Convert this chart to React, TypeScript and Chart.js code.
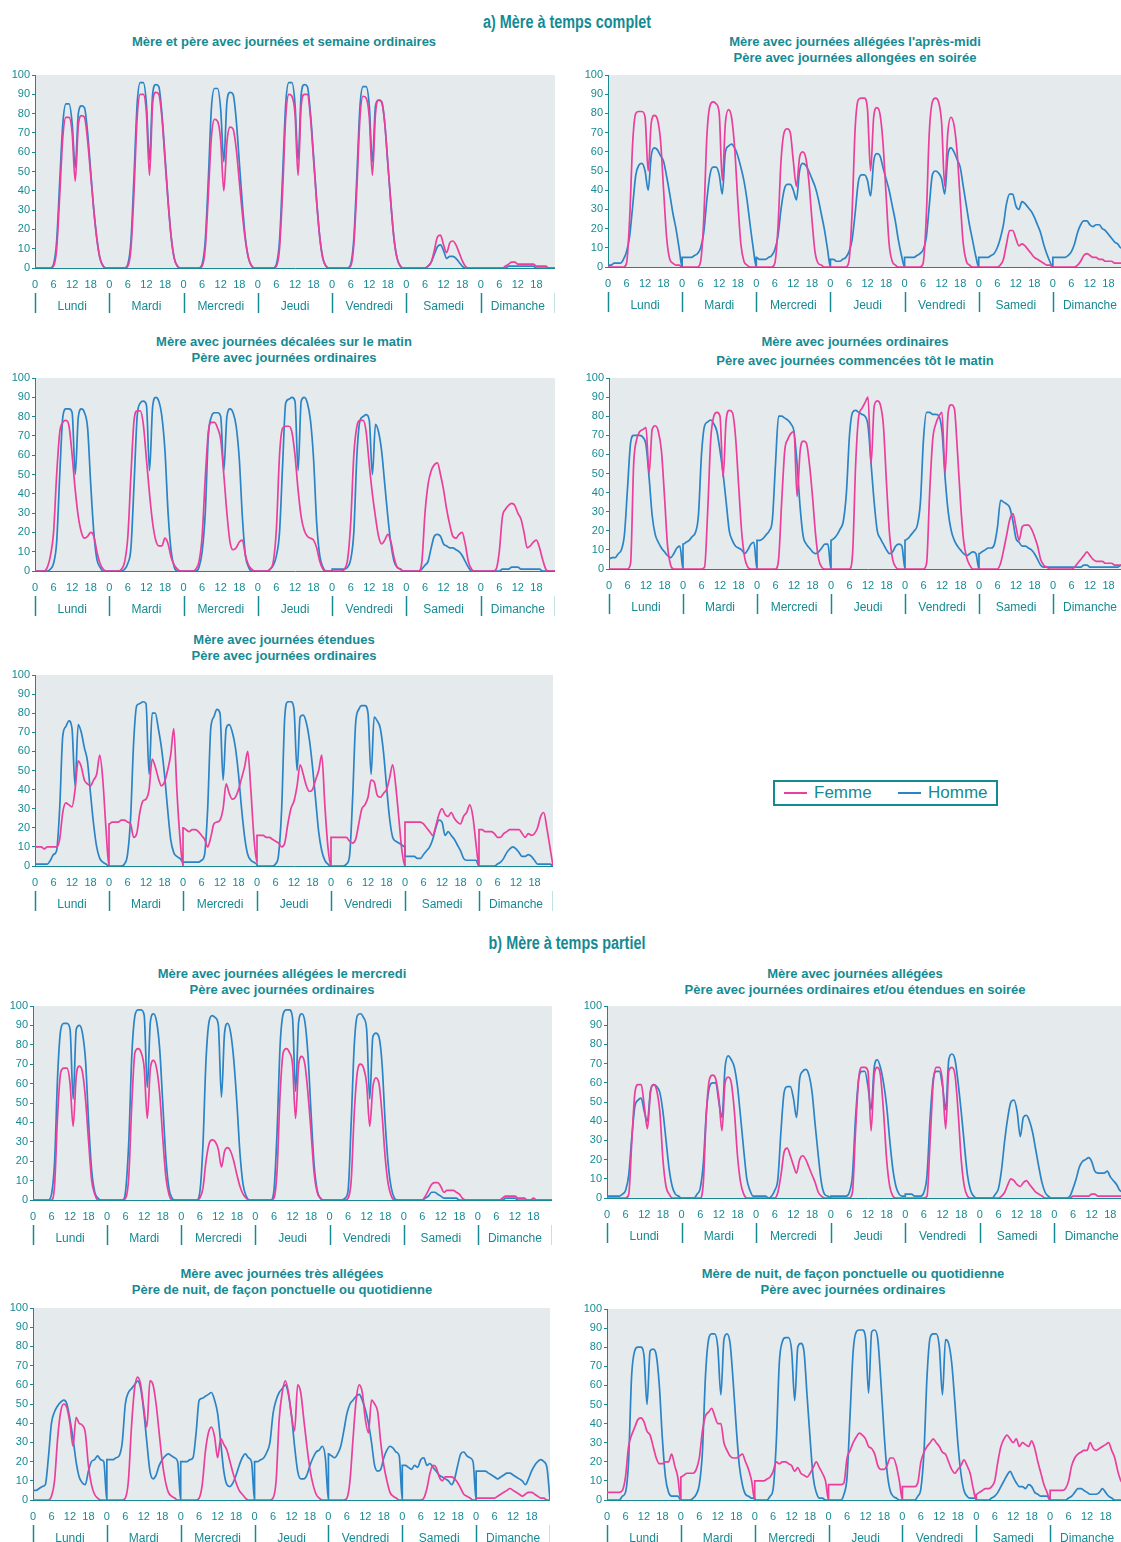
import React, { useEffect, useRef } from 'react';
import { Chart, registerables } from 'chart.js';

Chart.register(...registerables);

// ---------- text ----------
const SECTION_A = 'a) Mère à temps complet';
const SECTION_B = 'b) Mère à temps partiel';
const DAYS = ['Lundi', 'Mardi', 'Mercredi', 'Jeudi', 'Vendredi', 'Samedi', 'Dimanche'];
const HOUR_TICKS = [0, 6, 12, 18];
const Y_TICKS = [0, 10, 20, 30, 40, 50, 60, 70, 80, 90, 100];
const SERIES = ['Femme', 'Homme'];
const PANEL_TITLES = [
  ['Mère et père avec journées et semaine ordinaires'],
  ["Mère avec journées allégées l'après-midi", 'Père avec journées allongées en soirée'],
  ['Mère avec journées décalées sur le matin', 'Père avec journées ordinaires'],
  ['Mère avec journées ordinaires', 'Père avec journées commencées tôt le matin'],
  ['Mère avec journées étendues', 'Père avec journées ordinaires'],
  ['Mère avec journées allégées le mercredi', 'Père avec journées ordinaires'],
  ['Mère avec journées allégées', 'Père avec journées ordinaires et/ou étendues en soirée'],
  ['Mère avec journées très allégées', 'Père de nuit, de façon ponctuelle ou quotidienne'],
  ['Mère de nuit, de façon ponctuelle ou quotidienne', 'Père avec journées ordinaires'],
];

// ---------- data: % at work, one row per day, hours 0..24 ----------
const P1_FEMME = [
  [0,0,0,0,0,0,1,10,38,68,78,78,70,45,74,79,78,66,48,30,15,5,1,0,0],
  [0,0,0,0,0,0,1,10,40,78,90,90,80,48,85,91,90,78,56,34,16,5,1,0,0],
  [0,0,0,0,0,0,1,10,38,68,77,76,66,40,65,73,72,62,45,28,14,5,1,0,0],
  [0,0,0,0,0,0,1,10,40,78,90,89,80,48,84,90,90,78,56,34,16,5,1,0,0],
  [0,0,0,0,0,0,1,12,42,78,89,88,78,48,80,87,86,75,54,33,15,5,1,0,0],
  [0,0,0,0,0,0,0,1,3,9,16,17,12,8,13,14,12,8,4,1,0,0,0,0,0],
  [0,0,0,0,0,0,0,0,1,2,3,3,2,2,2,2,2,2,1,1,1,1,0,0,0],
];
const P1_HOMME = [
  [0,0,0,0,0,0,2,14,45,75,85,85,75,52,80,84,83,70,50,30,15,5,1,0,0],
  [0,0,0,0,0,0,2,14,48,85,96,96,85,56,90,95,94,80,58,35,16,5,1,0,0],
  [0,0,0,0,0,0,2,14,46,83,93,93,82,55,86,91,90,77,55,33,15,5,1,0,0],
  [0,0,0,0,0,0,2,14,48,85,96,96,85,56,90,95,94,80,58,35,16,5,1,0,0],
  [0,0,0,0,0,0,2,15,48,84,94,94,84,55,84,87,86,75,54,33,15,5,1,0,0],
  [0,0,0,0,0,0,0,1,3,7,11,12,9,5,6,6,5,3,1,0,0,0,0,0,0],
  [0,0,0,0,0,0,0,0,0,1,1,1,1,1,1,1,1,1,0,0,0,0,0,0,0],
];
const P2_FEMME = [
  [0,0,0,0,0,0,2,25,65,80,81,81,78,50,75,79,77,66,40,15,4,2,1,1,0],
  [0,0,0,0,0,0,3,25,68,84,86,85,80,45,75,82,78,62,35,12,3,1,0,0,0],
  [0,0,0,0,0,0,2,20,55,70,72,70,55,42,57,60,57,45,25,8,2,1,0,0,0],
  [0,0,0,0,0,0,3,28,72,87,88,88,82,50,78,83,80,65,38,12,3,1,0,0,0],
  [0,0,0,0,0,0,2,25,70,86,88,86,75,42,70,78,74,60,35,12,3,1,0,0,0],
  [0,0,0,0,0,0,0,1,4,12,19,19,15,11,12,11,9,7,5,4,3,2,1,1,0],
  [0,0,0,0,0,0,0,0,1,3,6,7,6,5,5,4,4,3,3,3,2,2,2,2,1],
];
const P2_HOMME = [
  [1,1,2,2,2,4,8,16,32,48,53,54,50,40,58,62,61,58,55,47,38,28,20,10,0],
  [5,5,5,5,6,7,10,18,35,48,52,52,48,38,60,63,64,62,58,52,45,35,22,10,0],
  [5,4,4,4,5,6,9,16,30,40,43,43,40,35,50,54,53,50,46,42,36,28,20,10,0],
  [4,4,3,3,4,5,8,14,28,44,48,48,45,37,55,59,58,52,46,40,32,24,14,6,0],
  [5,5,5,5,6,7,9,15,32,48,50,49,46,38,58,62,60,56,52,42,32,22,14,6,0],
  [5,5,5,5,6,7,10,15,22,33,38,38,32,30,34,33,31,29,26,22,18,12,7,3,0],
  [5,5,5,5,5,6,8,12,18,22,24,24,22,21,22,22,20,19,17,15,13,12,10,10,8],
];
const P3_FEMME = [
  [0,0,0,0,2,8,20,50,72,77,78,75,60,42,28,20,17,18,20,18,10,4,1,0,0],
  [0,0,0,0,1,5,18,50,78,83,83,76,58,40,25,16,13,13,17,14,7,3,1,0,0],
  [0,0,0,0,1,5,18,48,72,77,77,74,68,50,30,15,11,12,15,16,8,3,1,0,0],
  [0,0,0,0,1,5,22,60,74,75,75,72,60,42,28,21,18,17,16,12,5,1,0,0,0],
  [0,0,0,0,1,6,25,60,75,78,78,72,55,40,28,18,14,16,19,15,7,2,1,0,0],
  [0,0,0,0,0,5,30,45,52,55,56,50,42,32,24,18,17,19,20,14,5,1,0,0,0],
  [0,0,0,0,0,1,10,28,32,34,35,34,30,27,20,12,13,15,16,12,6,1,0,0,0],
];
const P3_HOMME = [
  [0,0,0,0,0,1,4,15,50,80,84,84,82,50,80,84,82,74,45,20,6,2,0,0,0],
  [0,0,0,0,0,1,4,12,45,80,87,88,86,52,85,90,88,80,62,30,10,2,0,0,0],
  [0,0,0,0,0,2,10,30,70,80,82,82,80,52,80,84,82,75,58,28,8,2,0,0,0],
  [0,0,0,0,1,3,8,20,55,87,89,90,88,52,88,90,87,78,58,25,8,2,0,0,0],
  [1,1,1,1,1,2,6,20,60,78,80,81,78,50,76,72,62,45,28,14,5,2,1,0,0],
  [0,0,0,0,0,1,3,5,12,18,19,18,14,13,12,12,11,10,8,5,2,0,0,0,0],
  [0,0,0,0,0,0,0,1,1,1,2,2,2,1,1,1,1,1,1,1,0,0,0,0,0],
];
const P4_FEMME = [
  [0,0,0,0,0,0,0,3,55,68,72,73,74,50,73,75,72,62,38,12,2,0,0,0,0],
  [0,0,0,0,0,0,0,1,30,68,80,82,80,48,78,83,82,70,45,20,6,1,0,0,0],
  [0,0,0,0,0,0,0,5,35,62,68,71,72,38,62,67,66,55,38,18,5,1,0,0,0],
  [0,0,0,0,0,0,0,8,55,80,84,87,90,55,85,88,86,75,45,18,5,1,0,0,0],
  [0,0,0,0,0,0,0,3,40,68,76,80,82,50,82,86,84,62,35,15,6,2,0,0,0],
  [0,0,0,0,0,0,0,3,10,18,26,29,22,15,22,23,23,21,17,12,5,2,1,0,0],
  [0,0,0,0,0,0,0,1,3,5,7,9,7,5,4,4,4,3,3,3,2,2,2,2,2],
];
const P4_HOMME = [
  [5,6,6,8,10,18,42,66,70,70,70,69,65,48,28,18,14,11,9,7,6,8,11,12,0],
  [13,14,15,17,19,28,60,75,77,78,76,72,62,50,35,20,15,12,11,10,8,10,13,14,0],
  [15,15,16,18,20,26,55,80,80,79,78,76,72,55,32,17,13,11,9,8,9,11,13,13,0],
  [15,16,18,21,25,40,70,82,83,82,81,80,75,55,35,20,16,13,10,8,9,12,13,12,0],
  [15,16,18,20,23,35,68,82,82,81,81,80,72,48,30,20,15,12,10,8,7,8,9,8,0],
  [8,9,10,11,11,13,22,36,35,34,32,25,16,14,12,12,11,10,8,5,2,1,1,1,1],
  [1,1,1,1,1,1,1,1,1,1,2,2,1,1,1,1,1,1,1,1,1,1,2,3,3],
];
const P5_FEMME = [
  [10,10,10,9,10,10,10,10,14,28,33,32,31,40,55,52,45,43,42,45,48,58,45,20,0],
  [22,23,23,23,24,24,23,22,15,17,28,34,35,40,56,52,46,42,44,50,58,72,40,15,0],
  [20,19,18,19,19,18,16,14,10,15,22,23,24,30,43,38,35,36,40,46,52,60,40,15,2],
  [16,16,16,15,15,14,13,12,10,12,22,30,34,42,53,48,42,39,40,45,50,58,32,10,0],
  [15,15,15,15,15,15,13,12,14,22,30,32,36,45,44,37,36,38,40,46,53,42,25,8,0],
  [23,23,23,23,23,23,22,20,18,16,21,27,30,27,26,28,25,23,22,26,28,32,26,12,0],
  [19,19,18,18,18,17,15,15,17,18,19,19,19,19,17,15,17,16,17,20,26,28,20,10,0],
];
const P5_HOMME = [
  [1,1,1,1,1,3,6,8,30,68,73,76,72,42,74,70,62,55,38,22,10,4,2,1,0],
  [0,0,0,0,0,1,6,25,65,84,85,86,85,48,80,80,72,62,48,30,14,7,5,4,2],
  [2,2,2,2,2,2,3,6,30,72,78,82,80,45,72,74,70,62,48,30,15,6,3,2,1],
  [0,0,0,0,0,0,1,6,30,78,86,86,82,50,78,79,75,66,52,35,18,8,3,1,0],
  [0,0,0,0,0,1,5,35,75,82,84,84,80,48,78,76,72,60,42,25,15,13,12,11,10],
  [5,5,5,5,4,4,6,8,10,14,20,24,23,16,18,16,14,11,8,4,3,3,3,3,0],
  [0,0,0,0,0,0,1,2,4,7,9,10,9,7,5,5,6,5,3,1,1,1,1,1,0],
];
const P6_FEMME = [
  [0,0,0,0,0,0,0,8,45,66,68,68,60,38,64,69,66,52,30,10,3,0,0,0,0],
  [0,0,0,0,0,0,1,12,50,76,78,76,68,42,68,72,68,55,32,12,3,0,0,0,0],
  [0,0,0,0,0,0,1,6,20,29,31,30,26,17,25,27,25,20,13,7,3,1,0,0,0],
  [0,0,0,0,0,0,1,15,55,76,78,76,70,42,70,74,70,55,35,14,4,1,0,0,0],
  [0,0,0,0,0,0,1,10,45,66,70,68,60,38,58,63,60,44,22,8,2,0,0,0,0],
  [0,0,0,0,0,0,0,2,5,8,9,9,7,4,5,5,5,4,3,1,0,0,0,0,0],
  [0,0,0,0,0,0,0,0,1,2,2,2,2,1,1,1,0,0,1,0,0,0,0,0,0],
];
const P6_HOMME = [
  [0,0,0,0,0,0,3,20,65,88,91,91,88,52,88,90,86,72,40,15,4,1,0,0,0],
  [0,0,0,0,0,0,5,30,75,95,98,98,95,58,92,96,92,78,50,22,6,1,0,0,0],
  [0,0,0,0,0,0,4,28,72,92,95,94,90,53,86,91,86,72,50,24,8,2,0,0,0],
  [0,0,0,0,0,0,5,35,80,96,98,98,94,56,92,96,92,75,45,18,5,1,0,0,0],
  [0,0,0,0,0,1,5,40,80,95,96,94,88,52,84,86,84,70,40,18,6,1,0,0,0],
  [0,0,0,0,0,0,0,1,2,4,4,3,2,1,1,1,1,1,0,0,0,0,0,0,0],
  [0,0,0,0,0,0,0,0,0,1,1,1,1,0,0,0,0,0,0,0,0,0,0,0,0],
];
const P7_FEMME = [
  [0,0,0,0,0,0,0,2,30,55,59,59,48,36,55,59,56,45,20,6,2,0,0,0,0],
  [0,0,0,0,0,0,0,8,45,62,64,62,52,35,60,63,60,45,22,8,2,0,0,0,0],
  [0,0,0,0,0,0,0,3,12,24,26,22,17,13,20,22,20,16,12,8,3,1,0,0,0],
  [0,0,0,0,0,0,0,3,35,62,68,68,66,35,64,68,64,45,20,6,1,0,0,0,0],
  [0,0,0,0,0,0,0,1,30,60,68,68,60,36,66,68,64,45,20,6,1,0,0,0,0],
  [0,0,0,0,0,0,0,1,3,7,10,9,7,6,8,9,7,5,3,2,1,0,0,0,0],
  [0,0,0,0,0,0,1,1,1,1,1,1,2,2,1,1,1,1,1,1,1,1,1,1,1],
];
const P7_HOMME = [
  [1,1,1,1,1,2,4,12,32,48,51,52,45,40,56,59,58,55,45,30,15,6,2,1,0],
  [0,0,0,0,0,2,5,18,45,58,60,60,50,42,68,74,72,68,58,42,25,10,4,1,1],
  [1,1,1,1,0,1,4,10,35,55,58,58,52,42,62,66,67,64,55,38,22,8,2,1,0],
  [1,1,1,1,1,1,3,12,42,62,66,66,58,46,68,72,68,60,48,30,15,6,2,1,1],
  [2,2,2,1,1,1,3,12,42,62,66,66,58,46,72,75,72,60,45,28,12,4,1,0,0],
  [0,0,0,0,0,2,5,15,30,42,50,51,45,32,42,43,40,34,25,16,8,3,1,0,0],
  [0,0,0,0,0,1,5,10,16,19,20,21,19,14,13,13,13,14,11,9,7,4,3,2,2],
];
const P8_FEMME = [
  [0,0,0,0,0,0,2,10,32,46,50,48,40,28,43,40,39,35,18,8,3,1,0,0,0],
  [0,0,0,0,0,0,1,10,38,58,64,60,48,38,62,60,50,35,20,10,4,2,1,0,0],
  [0,0,0,0,0,0,1,8,25,35,38,33,22,32,29,26,20,14,9,5,3,1,0,0,0],
  [0,0,0,0,0,0,1,10,42,56,62,56,44,36,60,56,42,28,16,8,3,1,0,0,0],
  [0,0,0,0,0,0,1,10,32,52,60,56,42,35,52,50,46,30,18,10,4,2,1,0,0],
  [0,0,0,0,0,0,0,1,6,14,18,17,12,10,12,12,12,11,9,6,3,2,1,0,0],
  [1,1,1,1,1,1,1,2,3,4,5,6,5,4,3,2,3,4,4,3,2,1,1,0,0],
];
const P8_HOMME = [
  [5,5,6,7,8,22,40,46,49,51,52,50,42,32,20,12,9,8,15,20,21,23,21,20,0],
  [21,21,21,22,23,30,50,56,58,60,62,58,46,30,15,11,13,18,21,23,24,23,22,20,0],
  [20,20,20,21,22,35,52,53,54,55,56,52,45,30,15,8,7,9,13,18,22,24,22,20,0],
  [20,20,21,22,25,30,45,52,56,58,60,55,44,28,15,11,11,13,18,22,25,26,28,22,0],
  [24,23,22,24,28,36,45,50,52,54,55,52,47,40,30,18,15,16,22,26,28,27,25,23,0],
  [18,18,17,16,18,17,21,22,18,19,17,15,13,12,11,10,8,11,18,24,25,23,22,20,0],
  [15,15,15,15,14,13,12,11,12,13,14,14,13,12,11,10,8,11,15,18,20,21,20,17,0],
];
const P9_FEMME = [
  [4,4,4,4,4,5,12,28,34,38,42,43,41,36,34,28,22,19,19,20,20,24,18,12,0],
  [12,13,14,14,14,16,22,36,44,46,48,44,40,40,30,26,23,22,22,23,24,20,16,10,0],
  [10,10,10,10,11,12,15,20,19,20,20,19,18,15,17,14,13,12,14,17,20,17,14,10,0],
  [8,8,8,8,8,9,22,26,30,33,35,34,32,28,27,24,18,16,16,18,22,22,18,10,0],
  [7,7,7,7,7,9,20,25,28,30,32,30,28,25,24,20,16,14,16,18,21,18,14,6,0],
  [3,4,5,6,6,7,10,20,28,32,34,32,30,32,28,30,29,28,31,27,20,14,8,4,0],
  [5,5,5,5,5,6,10,18,22,24,25,26,26,30,27,26,27,28,29,30,26,22,15,10,8],
];
const P9_HOMME = [
  [0,0,0,0,0,2,4,20,65,78,80,80,76,50,78,79,76,60,32,12,4,2,2,2,0],
  [0,0,0,0,1,3,8,25,65,84,87,87,80,55,84,87,82,62,38,18,8,3,2,1,1],
  [0,0,0,0,0,2,6,30,72,83,85,85,78,52,80,82,78,55,32,12,4,1,1,0,0],
  [0,0,0,0,0,3,12,45,78,88,89,89,85,56,88,89,84,62,36,15,5,2,1,0,0],
  [0,0,0,0,0,2,6,25,65,85,87,87,80,55,84,82,72,52,30,14,5,2,1,1,1],
  [0,0,0,0,0,1,2,4,7,10,13,15,12,9,7,7,6,8,7,4,3,2,2,2,0],
  [0,0,0,0,0,0,1,2,4,6,6,5,4,3,3,3,4,6,4,2,1,0,0,0,0],
];

const PANEL_DATA = [
  [P1_FEMME, P1_HOMME], [P2_FEMME, P2_HOMME], [P3_FEMME, P3_HOMME],
  [P4_FEMME, P4_HOMME], [P5_FEMME, P5_HOMME], [P6_FEMME, P6_HOMME],
  [P7_FEMME, P7_HOMME], [P8_FEMME, P8_HOMME], [P9_FEMME, P9_HOMME],
];

// ---------- layout & style ----------
const LAYOUT = [
  { left: 0, plotLeft: 35, plotRight: 555, plotTop: 75, plotBottom: 268, titleX: 284, titleY: 42, gap: 16 },
  { left: 566, plotLeft: 608, plotRight: 1127, plotTop: 75, plotBottom: 267, titleX: 855, titleY: 42, gap: 16 },
  { left: 0, plotLeft: 35, plotRight: 555, plotTop: 378, plotBottom: 571, titleX: 284, titleY: 342, gap: 16 },
  { left: 566, plotLeft: 609, plotRight: 1127, plotTop: 378, plotBottom: 569, titleX: 855, titleY: 342, gap: 19 },
  { left: 0, plotLeft: 35, plotRight: 553, plotTop: 675, plotBottom: 866, titleX: 284, titleY: 640, gap: 16 },
  { left: 0, plotLeft: 33, plotRight: 552, plotTop: 1006, plotBottom: 1200, titleX: 282, titleY: 974, gap: 16 },
  { left: 566, plotLeft: 607, plotRight: 1129, plotTop: 1006, plotBottom: 1198, titleX: 855, titleY: 974, gap: 16 },
  { left: 0, plotLeft: 33, plotRight: 550, plotTop: 1308, plotBottom: 1500, titleX: 282, titleY: 1274, gap: 16 },
  { left: 566, plotLeft: 607, plotRight: 1124, plotTop: 1309, plotBottom: 1500, titleX: 853, titleY: 1274, gap: 16 },
];
const TEAL = '#168a93';
const PINK = '#ea3f9c';
const BLUE = '#2b84c6';
const PLOT_BG = '#e5eaec';
const FONT = "'Liberation Sans', Arial, sans-serif";
const TOP_PAD = 10;
const X_AXIS_H = 48;

const X_TICK_VALUES = DAYS.flatMap((_, d) => HOUR_TICKS.map((h) => d * 24 + h));

const toPoints = (days: number[][]) =>
  days.flatMap((vals, d) => vals.map((v, h) => ({ x: d * 24 + h, y: v })));

const decoPlugin = {
  id: 'deco',
  beforeDraw(chart: any) {
    const { ctx, chartArea: a } = chart;
    ctx.save();
    ctx.fillStyle = PLOT_BG;
    ctx.fillRect(a.left, a.top, a.right - a.left, a.bottom - a.top);
    ctx.restore();
  },
  afterDraw(chart: any) {
    const { ctx, chartArea: a } = chart;
    const xs = chart.scales.x;
    ctx.save();
    ctx.strokeStyle = TEAL;
    ctx.lineWidth = 1.5;
    for (let d = 0; d <= DAYS.length; d++) {
      const px = Math.round(xs.getPixelForValue(d * 24)) + 0.5;
      ctx.beginPath();
      ctx.moveTo(px, a.bottom + 25);
      ctx.lineTo(px, a.bottom + 45);
      ctx.stroke();
    }
    ctx.fillStyle = TEAL;
    ctx.font = `12px ${FONT}`;
    ctx.textAlign = 'center';
    ctx.textBaseline = 'middle';
    DAYS.forEach((name, d) => ctx.fillText(name, xs.getPixelForValue(d * 24 + 12), a.bottom + 39));
    ctx.restore();
  },
};

function Panel({ idx }: { idx: number }) {
  const ref = useRef<HTMLCanvasElement | null>(null);
  const L = LAYOUT[idx];
  const width = L.plotRight - L.left;
  const height = L.plotBottom - L.plotTop + TOP_PAD + X_AXIS_H;
  useEffect(() => {
    if (!ref.current) return;
    const [femme, homme] = PANEL_DATA[idx];
    const chart = new Chart(ref.current, {
      type: 'line',
      data: {
        datasets: [
          { label: SERIES[0], data: toPoints(femme), borderColor: PINK, borderWidth: 1.7, pointRadius: 0, fill: false, cubicInterpolationMode: 'monotone' },
          { label: SERIES[1], data: toPoints(homme), borderColor: BLUE, borderWidth: 1.7, pointRadius: 0, fill: false, cubicInterpolationMode: 'monotone' },
        ],
      },
      options: {
        animation: false,
        responsive: false,
        maintainAspectRatio: false,
        events: [],
        layout: { padding: { top: TOP_PAD, right: 0, bottom: 0, left: 0 } },
        plugins: { legend: { display: false }, tooltip: { enabled: false } },
        scales: {
          x: {
            type: 'linear',
            min: 0,
            max: DAYS.length * 24,
            afterBuildTicks: (s: any) => { s.ticks = X_TICK_VALUES.map((v) => ({ value: v })); },
            afterFit: (s: any) => { s.height = X_AXIS_H; },
            grid: { display: false, drawTicks: false },
            border: { display: true, color: TEAL, width: 1 },
            ticks: {
              autoSkip: false, maxRotation: 0, padding: 10, color: TEAL,
              font: { family: FONT, size: 11 },
              callback: (v: any) => String(Number(v) % 24),
            },
          },
          y: {
            min: 0,
            max: 100,
            afterBuildTicks: (s: any) => { s.ticks = Y_TICKS.map((v) => ({ value: v })); },
            afterFit: (s: any) => { s.width = L.plotLeft - L.left; },
            grid: { display: true, drawOnChartArea: false, drawTicks: true, tickLength: 3, color: TEAL },
            border: { display: true, color: TEAL, width: 1 },
            ticks: { padding: 2, color: TEAL, font: { family: FONT, size: 11 } },
          },
        },
      },
      plugins: [decoPlugin],
    } as any);
    return () => chart.destroy();
  }, [idx]);
  return (
    <canvas
      ref={ref}
      width={width}
      height={height}
      style={{ position: 'absolute', left: L.left, top: L.plotTop - TOP_PAD, width, height }}
    />
  );
}

function PanelTitle({ idx }: { idx: number }) {
  const L = LAYOUT[idx];
  return (
    <>
      {PANEL_TITLES[idx].map((line, i) => (
        <div
          key={i}
          style={{
            position: 'absolute', left: L.titleX - 300, width: 600, top: L.titleY + i * L.gap - 8,
            height: 16, lineHeight: '16px', textAlign: 'center', color: TEAL,
            fontFamily: FONT, fontWeight: 700, fontSize: 13, whiteSpace: 'nowrap',
          }}
        >
          {line}
        </div>
      ))}
    </>
  );
}

function SectionTitle({ text, y }: { text: string; y: number }) {
  return (
    <div
      style={{
        position: 'absolute', left: 267, width: 600, top: y - 12, height: 24, lineHeight: '24px',
        textAlign: 'center', color: TEAL, fontFamily: FONT, fontWeight: 700, fontSize: 18,
        transform: 'scaleX(0.8)', whiteSpace: 'nowrap',
      }}
    >
      {text}
    </div>
  );
}

function Legend() {
  const item = (label: string, color: string, w: number) => (
    <div style={{ display: 'flex', alignItems: 'center', width: w }}>
      <div style={{ width: 23, height: 2, background: color, marginRight: 7 }} />
      <span style={{ color: TEAL, fontFamily: FONT, fontSize: 17 }}>{label}</span>
    </div>
  );
  return (
    <div
      style={{
        position: 'absolute', left: 773, top: 780, width: 212, height: 22,
        border: `2px solid ${TEAL}`, display: 'flex', alignItems: 'center', paddingLeft: 9, boxSizing: 'content-box',
      }}
    >
      {item(SERIES[0], PINK, 114)}
      {item(SERIES[1], BLUE, 98)}
    </div>
  );
}

export default function App() {
  useEffect(() => {
    document.body.style.margin = '0';
  }, []);
  return (
    <div style={{ position: 'relative', width: 1121, height: 1542, overflow: 'hidden', background: '#fff' }}>
      <SectionTitle text={SECTION_A} y={22} />
      <SectionTitle text={SECTION_B} y={943} />
      {LAYOUT.map((_, i) => (
        <React.Fragment key={i}>
          <PanelTitle idx={i} />
          <Panel idx={i} />
        </React.Fragment>
      ))}
      <Legend />
    </div>
  );
}
